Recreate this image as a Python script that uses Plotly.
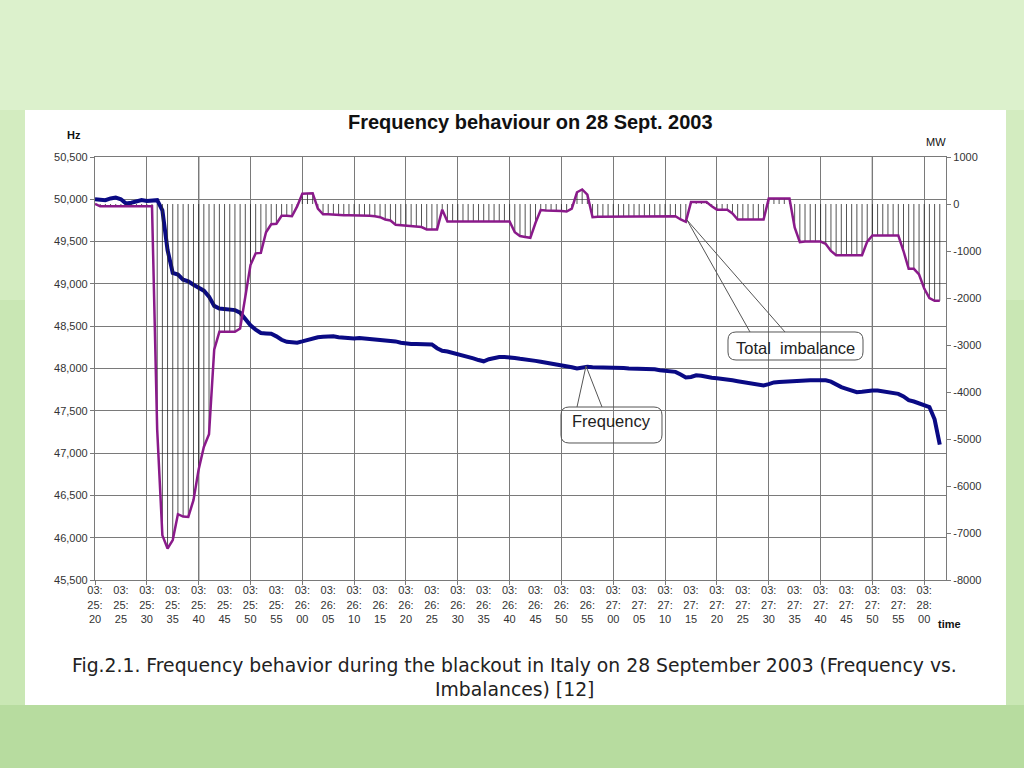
import plotly.graph_objects as go

# ---------------- data ----------------
# time axis: seconds after 03:25:20, one sample per second
seconds = list(range(0, 164))

tick_seconds = [0, 5, 10, 15, 20, 25, 30, 35, 40, 45, 50, 55, 60, 65, 70, 75, 80,
                85, 90, 95, 100, 105, 110, 115, 120, 125, 130, 135, 140, 145, 150, 155, 160]
tick_labels = ["03:<br>25:<br>20", "03:<br>25:<br>25", "03:<br>25:<br>30", "03:<br>25:<br>35",
               "03:<br>25:<br>40", "03:<br>25:<br>45", "03:<br>25:<br>50", "03:<br>25:<br>55",
               "03:<br>26:<br>00", "03:<br>26:<br>05", "03:<br>26:<br>10", "03:<br>26:<br>15",
               "03:<br>26:<br>20", "03:<br>26:<br>25", "03:<br>26:<br>30", "03:<br>26:<br>35",
               "03:<br>26:<br>40", "03:<br>26:<br>45", "03:<br>26:<br>50", "03:<br>26:<br>55",
               "03:<br>27:<br>00", "03:<br>27:<br>05", "03:<br>27:<br>10", "03:<br>27:<br>15",
               "03:<br>27:<br>20", "03:<br>27:<br>25", "03:<br>27:<br>30", "03:<br>27:<br>35",
               "03:<br>27:<br>40", "03:<br>27:<br>45", "03:<br>27:<br>50", "03:<br>27:<br>55",
               "03:<br>28:<br>00"]

# frequency (left axis, displayed as 45,500 ... 50,500)
frequency = [
    50000, 49990, 49990, 50010, 50020, 50000, 49950, 49960, 49980, 49990,
    49980, 49980, 49990, 49870, 49400, 49130, 49110, 49050, 49030, 48990,
    48960, 48920, 48850, 48740, 48710, 48705, 48700, 48690, 48660, 48590,
    48510, 48460, 48420, 48415, 48410, 48380, 48340, 48315, 48310, 48305,
    48320, 48340, 48355, 48370, 48375, 48380, 48380, 48370, 48365, 48355,
    48355, 48360, 48355, 48355, 48350, 48345, 48335, 48330, 48320, 48305,
    48295, 48290, 48290, 48290, 48290, 48285, 48240, 48210, 48200, 48185,
    48175, 48160, 48140, 48120, 48100, 48085, 48110, 48125, 48135, 48135,
    48135, 48125, 48115, 48110, 48100, 48090, 48080, 48070, 48060, 48050,
    48045, 48030, 48015, 48000, 48010, 48020, 48015, 48015, 48010, 48010,
    48005, 48005, 48005, 48000, 48000, 48000, 48000, 47995, 47990, 47980,
    47975, 47965, 47960, 47930, 47895, 47900, 47920, 47915, 47900, 47890,
    47885, 47880, 47870, 47860, 47850, 47840, 47825, 47815, 47805, 47800,
    47815, 47835, 47840, 47845, 47845, 47850, 47850, 47855, 47860, 47860,
    47860, 47860, 47845, 47810, 47780, 47760, 47735, 47720, 47725, 47735,
    47740, 47740, 47730, 47720, 47710, 47700, 47670, 47625, 47610, 47590,
    47570, 47545, 47400, 47100,
]

# total imbalance in MW (right axis)
imbalance = [
    0, -50, -50, -50, -50, -50, -50, -50, -50, -50,
    -50, -50, -4800, -7050, -7330, -7150, -6600, -6650, -6660, -6300,
    -5650, -5170, -4900, -3100, -2720, -2720, -2720, -2720, -2650, -1980,
    -1300, -1050, -1040, -600, -430, -420, -250, -250, -260, -50,
    220, 225, 230, -100, -220, -220, -230, -240, -240, -240,
    -240, -250, -250, -250, -260, -280, -330, -350, -440, -450,
    -450, -460, -470, -490, -540, -540, -540, -120, -370, -370,
    -370, -370, -370, -370, -370, -370, -370, -370, -370, -370,
    -370, -600, -680, -700, -720, -400, -130, -140, -140, -150,
    -150, -160, -100, 250, 310, 200, -280, -270, -270, -270,
    -270, -270, -270, -270, -270, -270, -270, -260, -260, -260,
    -260, -260, -260, -330, -380, 40, 40, 40, 40, -50,
    -120, -120, -120, -200, -330, -330, -330, -330, -330, -330,
    115, 115, 115, 115, 115, -500, -810, -800, -800, -800,
    -800, -850, -1000, -1090, -1090, -1090, -1090, -1090, -1090, -800,
    -670, -670, -670, -670, -670, -670, -1000, -1380, -1380, -1500,
    -1800, -2000, -2060, -2060,
]

hz_ticks = [45500, 46000, 46500, 47000, 47500, 48000, 48500, 49000, 49500, 50000, 50500]
hz_labels = ["45,500", "46,000", "46,500", "47,000", "47,500", "48,000",
             "48,500", "49,000", "49,500", "50,000", "50,500"]
mw_ticks = [-8000, -7000, -6000, -5000, -4000, -3000, -2000, -1000, 0, 1000]
mw_labels = ["-8000", "-7000", "-6000", "-5000", "-4000", "-3000", "-2000", "-1000", "0", "1000"]

# ---------------- layout geometry (pixels) ----------------
W, H = 1024, 768
PL, PR, PT, PB = 95, 946, 157, 580  # plot area in pixels


def px(x, y):
    return (x - PL) / (PR - PL), (PB - y) / (PB - PT)


def rrect_path(x0, y0, x1, y1, r=8):
    def p(x, y):
        a, b = px(x, y)
        return f"{a:.5f},{b:.5f}"
    return (f"M {p(x0 + r, y0)} L {p(x1 - r, y0)} Q {p(x1, y0)} {p(x1, y0 + r)} "
            f"L {p(x1, y1 - r)} Q {p(x1, y1)} {p(x1 - r, y1)} "
            f"L {p(x0 + r, y1)} Q {p(x0, y1)} {p(x0, y1 - r)} "
            f"L {p(x0, y0 + r)} Q {p(x0, y0)} {p(x0 + r, y0)} Z")


FONT = "Liberation Sans, Arial, sans-serif"
GRID = "#7a7a7a"

fig = go.Figure()

# drop lines from 0 MW to the imbalance curve
dx, dy = [], []
for t, v in zip(seconds, imbalance):
    dx += [t, t, None]
    dy += [0, v, None]
fig.add_trace(go.Scatter(x=dx, y=dy, yaxis="y2", mode="lines",
                         line=dict(color="rgba(40,40,40,0.8)", width=1),
                         hoverinfo="skip", showlegend=False))

fig.add_trace(go.Scatter(x=seconds, y=frequency, yaxis="y", mode="lines",
                         name="Frequency",
                         line=dict(color="#0a0a84", width=4), showlegend=False))

fig.add_trace(go.Scatter(x=seconds, y=imbalance, yaxis="y2", mode="lines",
                         name="Total imbalance",
                         line=dict(color="#8a1a8a", width=2.5), showlegend=False))

shapes = []
# slide background bands
shapes.append(dict(type="rect", xref="paper", yref="paper", layer="below",
                   x0=px(0, 0)[0], x1=px(W, 0)[0], y0=px(0, 705)[1], y1=px(0, H)[1],
                   fillcolor="#b7dc9f", line_width=0))
shapes.append(dict(type="rect", xref="paper", yref="paper", layer="below",
                   x0=px(0, 0)[0], x1=px(W, 0)[0], y0=px(0, 300)[1], y1=px(0, 705)[1],
                   fillcolor="#c9e7b4", line_width=0))
shapes.append(dict(type="rect", xref="paper", yref="paper", layer="below",
                   x0=px(0, 0)[0], x1=px(W, 0)[0], y0=px(0, 110)[1], y1=px(0, 300)[1],
                   fillcolor="#d3ecc0", line_width=0))
# white chart box
shapes.append(dict(type="rect", xref="paper", yref="paper", layer="below",
                   x0=px(25, 0)[0], x1=px(1006, 0)[0], y0=px(0, 705)[1], y1=px(0, 110)[1],
                   fillcolor="white", line_width=0))
# darker vertical grid lines
for t in [20, 150]:
    shapes.append(dict(type="line", xref="x", yref="paper", x0=t, x1=t, y0=0, y1=1,
                       line=dict(color="#111111", width=1.2), layer="below"))

# callout boxes
shapes.append(dict(type="path", xref="paper", yref="paper",
                   path=rrect_path(561, 407, 662, 443), line=dict(color="#555555", width=1)))
shapes.append(dict(type="path", xref="paper", yref="paper",
                   path=rrect_path(728, 332, 863, 360), line=dict(color="#555555", width=1)))
for (x0, y0, x1, y1) in [(577, 407, 586, 366), (602, 407, 586, 366),
                         (750, 332, 687, 220), (785, 332, 687, 220)]:
    a0, b0 = px(x0, y0)
    a1, b1 = px(x1, y1)
    shapes.append(dict(type="line", xref="paper", yref="paper", x0=a0, y0=b0, x1=a1, y1=b1,
                       line=dict(color="#555555", width=1)))

annotations = []


def ann(text, x, y, size, bold=False, family=FONT, color="#111111", xanchor="center"):
    a, b = px(x, y)
    annotations.append(dict(text=f"<b>{text}</b>" if bold else text, x=a, y=b,
                            xref="paper", yref="paper", showarrow=False,
                            xanchor=xanchor, yanchor="middle",
                            font=dict(family=family, size=size, color=color)))


ann("Frequency behaviour on 28 Sept. 2003", 530, 122, 20, bold=True)
ann("Hz", 74, 135, 11, bold=True)
ann("MW", 936, 142, 11)
ann("time", 949, 624, 11, bold=True)
ann("Frequency", 611, 421, 16.5, color="#222222")
ann("Total  imbalance", 795, 348, 16.5, color="#222222")
ann("Fig.2.1. Frequency behavior during the blackout in Italy on 28 September 2003 (Frequency vs.",
    514, 665, 18.8, family="DejaVu Sans, Verdana, sans-serif", color="#222222")
ann("Imbalances) [12]", 514, 689, 18.8, family="DejaVu Sans, Verdana, sans-serif", color="#222222")

fig.update_layout(
    width=W, height=H,
    margin=dict(l=PL, r=W - PR, t=PT, b=H - PB, pad=0),
    paper_bgcolor="#dcf1cc",
    plot_bgcolor="white",
    font=dict(family=FONT, size=11, color="#222222"),
    showlegend=False,
    shapes=shapes,
    annotations=annotations,
    xaxis=dict(range=[0, 164.2], tickmode="array", tickvals=tick_seconds, ticktext=tick_labels,
               ticks="", showgrid=False, zeroline=False, showline=True, linecolor=GRID,
               linewidth=1.2, mirror=True, tickfont=dict(size=11, color="#333333"),
               minor=dict(tick0=0, dtick=10, showgrid=True, gridcolor=GRID, gridwidth=1.2,
                          ticks="outside", ticklen=4, tickcolor=GRID)),
    yaxis=dict(range=[45500, 50500], tickmode="array", tickvals=hz_ticks, ticktext=hz_labels,
               showgrid=True, gridcolor=GRID, gridwidth=1.2, zeroline=False,
               showline=True, linecolor=GRID, linewidth=1.2, ticks="outside", ticklen=4,
               tickcolor=GRID, tickfont=dict(size=11, color="#333333")),
    yaxis2=dict(range=[-8000, 1000], overlaying="y", side="right", tickmode="array",
                tickvals=mw_ticks, ticktext=mw_labels, showgrid=False, zeroline=False,
                showline=True, linecolor=GRID, linewidth=1.2, ticks="outside", ticklen=4,
                tickcolor=GRID, tickfont=dict(size=11, color="#333333")),
)

fig.write_html("out.html", config={"displayModeBar": False},
               post_script="document.body.style.margin='0';document.body.style.overflow='hidden';")
